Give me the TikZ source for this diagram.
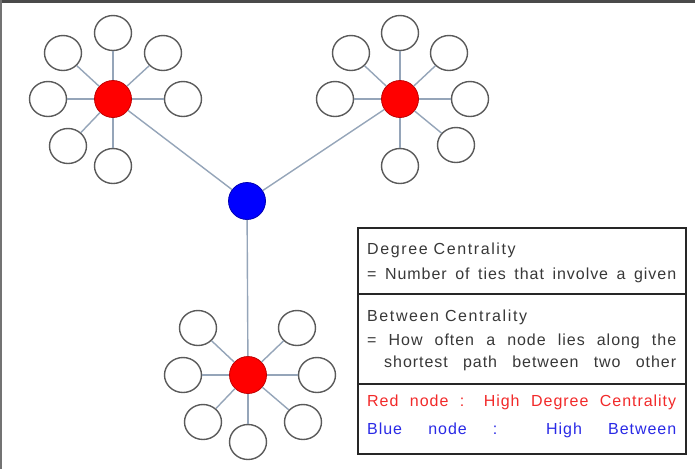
\documentclass[tikz,border=0pt]{standalone}
\usepackage{fontspec}
\setmainfont{Liberation Sans}
\newfontfamily\bodyf[LetterSpace=6]{Liberation Sans}
\newfontfamily\headf[LetterSpace=10]{Liberation Sans}
\usetikzlibrary{shapes.geometric}
\definecolor{edgec}{HTML}{95A5B9}
\definecolor{satc}{HTML}{5A5A5A}
\definecolor{txtc}{HTML}{383838}
\definecolor{redt}{HTML}{F22A2A}
\definecolor{bluet}{HTML}{2A2AE6}
\definecolor{framec}{HTML}{4A4A4A}
\begin{document}
\begin{tikzpicture}[x=1pt,y=-1pt,
  sat/.style={ellipse,draw=satc,fill=white,line width=1.4pt,minimum width=37pt,minimum height=35pt,inner sep=0pt},
  hub/.style={circle,fill=red,draw=red!75!black,line width=0.8pt,minimum size=37pt,inner sep=0pt},
  bhub/.style={circle,fill=blue,draw=blue!70!black,line width=0.8pt,minimum size=37pt,inner sep=0pt},
  edge/.style={draw=edgec,line width=1.4pt},
  box/.style={draw=black!85,line width=1.3pt,minimum width=328pt,inner sep=0pt},
  txt/.style={anchor=base west,inner sep=0pt,text=txtc,font=\fontsize{16pt}{19pt}\selectfont}]
\useasboundingbox (0,0) rectangle (695,469);
\fill[white] (0,0) rectangle (695,469);
\draw[line width=3pt,framec] (0,1.5) -- (695,1.5);
\draw[line width=2pt,black!55] (1,0) -- (1,469);

% blue hub
\node[bhub] (B) at (247,201) {};

% cluster 1
\node[hub] (R1) at (113,99) {};
\node[sat] (a1) at (113,33) {};
\node[sat] (a2) at (63,53) {};
\node[sat] (a3) at (163,53) {};
\node[sat] (a4) at (48,99) {};
\node[sat] (a5) at (183,99) {};
\node[sat] (a6) at (68,146) {};
\node[sat] (a7) at (113,166) {};
% cluster 2
\node[hub] (R2) at (400,99) {};
\node[sat] (b1) at (400,33) {};
\node[sat] (b2) at (351,53) {};
\node[sat] (b3) at (449,53) {};
\node[sat] (b4) at (335,99) {};
\node[sat] (b5) at (470,99) {};
\node[sat] (b6) at (456,145) {};
\node[sat] (b7) at (400,166) {};
% cluster 3
\node[hub] (R3) at (248,375) {};
\node[sat] (c1) at (198,328) {};
\node[sat] (c2) at (297,328) {};
\node[sat] (c3) at (183,375) {};
\node[sat] (c4) at (317,375) {};
\node[sat] (c5) at (203,422) {};
\node[sat] (c6) at (303,422) {};
\node[sat] (c7) at (248,442) {};

\foreach \s in {a1,a2,a3,a4,a5,a6,a7} \path[edge] (R1) -- (\s);
\foreach \s in {b1,b2,b3,b4,b5,b6,b7} \path[edge] (R2) -- (\s);
\foreach \s in {c1,c2,c3,c4,c5,c6,c7} \path[edge] (R3) -- (\s);
\path[edge] (R1) -- (B);
\path[edge] (R2) -- (B);
\path[edge] (R3) -- (B);

% boxes
\node[box,minimum height=66pt] (box1) at (522,261) {};
\node[box,minimum height=90pt] (box2) at (522,339) {};
\node[box,minimum height=70pt] (box3) at (522,419) {};

% texts
\node[txt] (h1) at (367,254) {\headf Degree Centrality};
\node[txt] (l1) at (367,279) {\makebox[309pt][s]{\bodyf = Number of ties that involve a given}};
\node[txt] (h2) at (367,321) {\headf Between Centrality};
\node[txt] (l2) at (367,345) {\makebox[309pt][s]{\bodyf = How often a node lies along the}};
\node[txt] (l3) at (384,367) {\makebox[292pt][s]{\bodyf shortest path between two other}};
\node[txt,text=redt] (l4) at (367,406) {\makebox[309pt][s]{\bodyf Red node : High Degree Centrality}};
\node[txt,text=bluet] (l5) at (367,434) {\makebox[309pt][s]{\bodyf Blue node : High Between}};
\end{tikzpicture}
\end{document}
